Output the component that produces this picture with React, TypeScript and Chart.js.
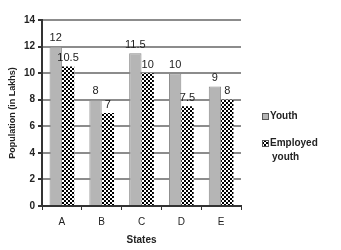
import React, { useEffect, useRef } from "react";
import { Chart, registerables } from "chart.js";

Chart.register(...registerables);

const categories = ["A", "B", "C", "D", "E"];
const youth = [12, 8, 11.5, 10, 9];
const employedYouth = [10.5, 7, 10, 7.5, 8];
const seriesNames = ["Youth", "Employed youth"];
const yTicks = [0, 2, 4, 6, 8, 10, 12, 14];

const FONT = "'Liberation Sans', Arial, sans-serif";

function makeChecker(): CanvasPattern | string {
  const c = document.createElement("canvas");
  c.width = 4;
  c.height = 4;
  const g = c.getContext("2d");
  if (!g) return "#000";
  g.fillStyle = "#ffffff";
  g.fillRect(0, 0, 4, 4);
  g.fillStyle = "#000000";
  g.fillRect(0, 0, 2, 2);
  g.fillRect(2, 2, 2, 2);
  const p = g.createPattern(c, "repeat");
  return p || "#000";
}

export default function App() {
  const ref = useRef<HTMLCanvasElement | null>(null);

  useEffect(() => {
    document.body.style.margin = "0";
    const canvas = ref.current;
    if (!canvas) return;
    const checker = makeChecker();

    const labelPlugin = {
      id: "valueLabels",
      afterDatasetsDraw(chart: any) {
        const ctx = chart.ctx;
        ctx.save();
        ctx.font = `11px ${FONT}`;
        ctx.fillStyle = "#222";
        ctx.textAlign = "center";
        ctx.textBaseline = "bottom";
        chart.data.datasets.forEach((ds: any, i: number) => {
          const meta = chart.getDatasetMeta(i);
          meta.data.forEach((bar: any, j: number) => {
            ctx.fillText(String(ds.data[j]), bar.x, bar.y - 3);
          });
        });
        ctx.restore();
      },
    };

    const legendPlugin = {
      id: "customLegend",
      afterDraw(chart: any) {
        const ctx = chart.ctx;
        ctx.save();
        ctx.font = `bold 10px ${FONT}`;
        ctx.textBaseline = "middle";
        ctx.textAlign = "left";
        ctx.fillStyle = "#b5b5b5";
        ctx.fillRect(262, 113, 6, 6);
        ctx.strokeStyle = "#555";
        ctx.lineWidth = 1;
        ctx.strokeRect(262.5, 113.5, 6, 6);
        ctx.fillStyle = "#222";
        ctx.fillText(seriesNames[0], 270, 116);
        ctx.fillStyle = checker as any;
        ctx.fillRect(262, 140, 6, 6);
        ctx.strokeRect(262.5, 140.5, 6, 6);
        ctx.fillStyle = "#222";
        const parts = seriesNames[1].split(" ");
        ctx.fillText(parts[0], 270, 143);
        ctx.fillText(parts[1], 272, 157);
        ctx.restore();
      },
    };

    const chart = new Chart(canvas, {
      type: "bar",
      data: {
        labels: categories,
        datasets: [
          {
            label: seriesNames[0],
            data: youth,
            backgroundColor: "#b5b5b5",
            borderColor: "#8a8a8a",
            borderWidth: 1,
            categoryPercentage: 0.62,
            barPercentage: 1,
          },
          {
            label: seriesNames[1],
            data: employedYouth,
            backgroundColor: checker as any,
            borderColor: "#111",
            borderWidth: 0,
            categoryPercentage: 0.62,
            barPercentage: 1,
          },
        ],
      },
      options: {
        animation: false,
        responsive: false,
        maintainAspectRatio: false,
        layout: { padding: { top: 20, right: 100, left: 0, bottom: 0 } },
        plugins: {
          legend: { display: false },
          tooltip: { enabled: false },
        },
        scales: {
          x: {
            offset: true,
            grid: {
              offset: true,
              drawOnChartArea: false,
              drawTicks: true,
              tickLength: 4,
              color: "#333",
              lineWidth: 1,
            },
            border: { color: "#333", width: 2 },
            ticks: {
              color: "#222",
              font: { family: FONT, size: 10 },
              padding: 6,
            },
            title: {
              display: true,
              text: "States",
              color: "#222",
              font: { family: FONT, size: 10, weight: "bold" },
              padding: { top: 1 },
            },
            afterFit(s: any) {
              s.height = 44;
            },
          },
          y: {
            min: 0,
            max: 14,
            afterBuildTicks(s: any) {
              s.ticks = yTicks.map((v) => ({ value: v }));
            },
            grid: {
              color: "#8c8c8c",
              lineWidth: 2,
              tickLength: 4,
              tickColor: "#333",
            },
            border: { color: "#333", width: 2 },
            ticks: {
              color: "#222",
              font: { family: FONT, size: 10, weight: "bold" },
              padding: 3,
            },
            title: {
              display: true,
              text: "Population (in Lakhs)",
              color: "#222",
              font: { family: FONT, size: 9, weight: "bold" },
              padding: { top: 7, bottom: 2 },
            },
            afterFit(s: any) {
              s.width = 42;
            },
          },
        },
      },
      plugins: [labelPlugin, legendPlugin],
    });
    return () => chart.destroy();
  }, []);

  return (
    <div style={{ position: "absolute", left: 0, top: 0, width: 341, height: 250, background: "#fff" }}>
      <canvas ref={ref} width={341} height={250} style={{ width: 341, height: 250 }} />
    </div>
  );
}
